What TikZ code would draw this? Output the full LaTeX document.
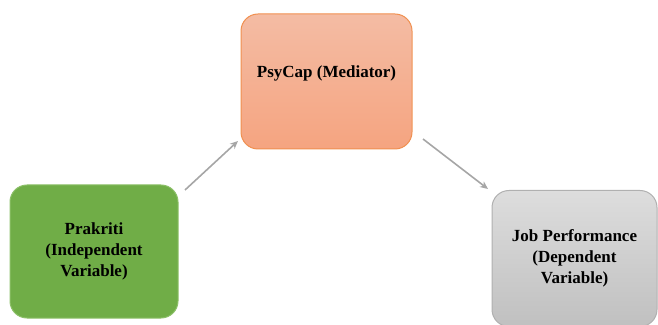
\documentclass[tikz,border=0pt]{standalone}
\usepackage{fontspec}
\setmainfont{Liberation Serif}
\usetikzlibrary{arrows.meta}
\definecolor{orTop}{HTML}{F4BCA4}
\definecolor{orBot}{HTML}{F5A480}
\definecolor{orLine}{HTML}{F09050}
\definecolor{grn}{HTML}{70AD47}
\definecolor{grnLine}{HTML}{8CC068}
\definecolor{gyTop}{HTML}{DDDDDD}
\definecolor{gyBot}{HTML}{C0C0C0}
\definecolor{gyLine}{HTML}{B0B0B0}
\definecolor{arr}{HTML}{A6A6A6}
\tikzset{
  boxfont/.style={font=\fontsize{17}{21}\selectfont\bfseries},
  box/.style={rounded corners=17pt, line width=1pt, inner sep=0pt,
    boxfont, align=center},
  conn/.style={draw=arr, line width=1.6pt, -{Stealth[length=8pt,width=7pt]}}
}
\begin{document}
\begin{tikzpicture}[x=1pt,y=1pt]
\useasboundingbox (0,0) rectangle (658,324);
\node[box, draw=orLine, top color=orTop, bottom color=orBot,
  minimum width=171pt, minimum height=135pt] (med) at (326.5,242.5) {};
\node[boxfont] (medt) at (326.5,251) {PsyCap (Mediator)};
\node[box, draw=grnLine, fill=grn,
  minimum width=168pt, minimum height=133pt] (iv) at (94,72.5) {Prakriti\\(Independent\\Variable)};
\node[box, draw=gyLine, top color=gyTop, bottom color=gyBot,
  minimum width=165pt, minimum height=136pt] (dv) at (574.5,65.5) {Job Performance\\(Dependent\\Variable)};
\coordinate (a1s) at (185,134);
\coordinate (a1e) at (238,183);
\coordinate (a2s) at (423,185);
\coordinate (a2e) at (488,135);
\draw[conn] (a1s) -- (a1e);
\draw[conn] (a2s) -- (a2e);
\end{tikzpicture}
\end{document}
